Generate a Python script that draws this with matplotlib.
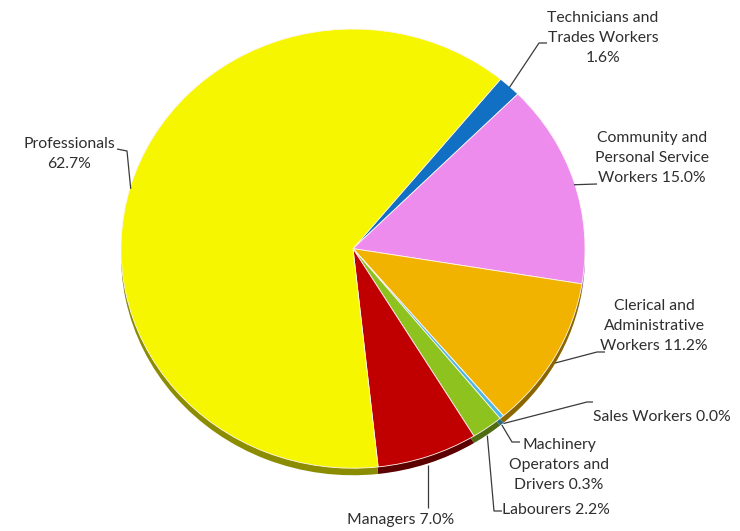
import numpy as np
import matplotlib
matplotlib.use("Agg")
import matplotlib.pyplot as plt

# Occupation shares (%), listed clockwise from the top-right
categories = ["Technicians and\nTrades Workers", "Community and\nPersonal Service\nWorkers",
              "Clerical and\nAdministrative\nWorkers", "Sales Workers",
              "Machinery\nOperators and\nDrivers", "Labourers", "Managers", "Professionals"]
shares = [1.6, 15.0, 11.2, 0.0, 0.3, 2.2, 7.0, 62.7]
colors = ["#1170c4", "#ee8cee", "#f1b300", "#2f6fb0", "#4cb8e6", "#8dc21f", "#c00000", "#f6f600"]
rim_colors = ["#0a3f70", "#8a4f8a", "#8a6600", "#1a3f66", "#2a6a86", "#4f6d10", "#5c0000", "#8c8c00"]

W, H = 740, 531
fig = plt.figure(figsize=(W / 100, H / 100), dpi=100)

# Pie drawn as an ellipse inside its own axes box
cx, cy, rx, ry = 353, 253, 232, 224
pie_ax = fig.add_axes([(cx - rx) / W, (H - cy - ry) / H, 2 * rx / W, 2 * ry / H])
start = 50.5
pie_ax.pie(shares, colors=rim_colors, startangle=start, counterclock=False,
           center=(0, -0.032), radius=1.0, normalize=True)
pie_ax.pie(shares, colors=colors, startangle=start, counterclock=False,
           radius=1.0, normalize=True,
           wedgeprops=dict(edgecolor="#fff6f0", linewidth=0.6))
pie_ax.set_xlim(-1, 1)
pie_ax.set_ylim(-1.04, 1)
pie_ax.set_aspect("auto")
pie_ax.axis("off")

# Overlay in pixel coordinates for labels and leader lines
ov = fig.add_axes([0, 0, 1, 1])
ov.set_xlim(0, W)
ov.set_ylim(H, 0)
ov.axis("off")
ov.patch.set_alpha(0)

# Mid-angle of each wedge, used to anchor the leader lines on the rim
total = sum(shares)
bounds = start - np.cumsum([0] + shares) / total * 360.0
mids = (bounds[:-1] + bounds[1:]) / 2.0
anchors = [(cx + rx * np.cos(np.radians(a)), cy - ry * np.sin(np.radians(a))) for a in mids]

label_text = [f"{c} {v:.1f}%" for c, v in zip(categories, shares)]
label_text[0] = f"{categories[0]}\n{shares[0]:.1f}%"
label_text[7] = f"{categories[7]}\n{shares[7]:.1f}%"

# (x, y, ha) of each label and the bend points of its leader
label_pos = [(603, 38, "center"), (652, 158, "center"), (654, 326, "center"),
             (593, 417, "left"), (559, 465, "center"), (502, 510, "left"),
             (401, 520, "center"), (69, 154, "center")]
leader_pts = [[(539, 43), (547, 43)], [(597, 184)], [(597, 352), (605, 352)],
              [(587, 402), (593, 402)], [(512, 442), (520, 442)],
              [(494, 511), (502, 511)], [None], [(127, 151), (117, 149)]]

text_kw = dict(family=["Lato", "DejaVu Sans"], fontsize=11.3,
               color="#2e2e2e", linespacing=1.52)
for (x, y, ha), txt in zip(label_pos, label_text):
    ov.text(x, y, txt, ha=ha, va="center", multialignment="center", **text_kw)

for (ax_, ay_), pts in zip(anchors, leader_pts):
    if pts == [None]:
        pts = [(ax_, 508)]
    xs = [ax_] + [p[0] for p in pts]
    ys = [ay_] + [p[1] for p in pts]
    ov.plot(xs, ys, color="#3a3a3a", lw=0.9, solid_capstyle="butt")

fig.savefig("out.png", dpi=100, facecolor="white")
